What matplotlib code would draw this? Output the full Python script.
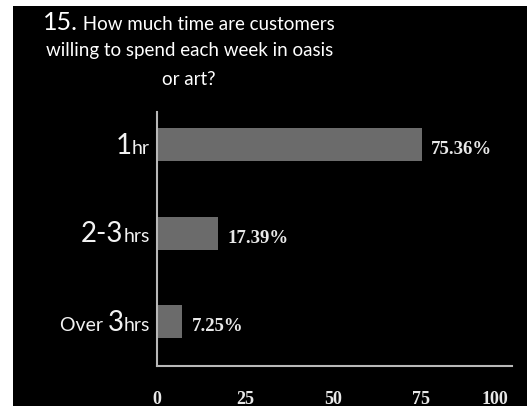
import matplotlib.pyplot as plt
from matplotlib.patches import Rectangle

categories = ["1hr", "2-3hrs", "Over 3hrs"]
values = [75.36, 17.39, 7.25]
# how each category label is split into (text, big?) pieces, left to right
label_parts = [[("1", True), ("hr", False)],
               [("2-3", True), ("hrs", False)],
               [("Over ", False), ("3", True), ("hrs", False)]]
xticks = [0, 25, 50, 75, 100]
title_num = "15."
title_lines = ["How much time are customers", "willing to spend each week in oasis", "or art?"]

W, H = 527, 409
fig = plt.figure(figsize=(W / 100, H / 100), dpi=100, facecolor="white")
fig.add_artist(Rectangle((13 / W, 3 / H), 1 - 13 / W, (H - 9) / H,
                         transform=fig.transFigure, facecolor="black",
                         edgecolor="none", zorder=-10))

ax = fig.add_axes([157 / W, 43 / H, (512 - 157) / W, (366 - 112) / H])
ax.set_facecolor("none")

ypos = list(range(len(categories)))
ax.barh(ypos, values, height=0.37, color="#6b6b6b")
ax.set_ylim(2.5, -0.37)
ax.set_xlim(0, 101)

for s in ["top", "right"]:
    ax.spines[s].set_visible(False)
for s in ["left", "bottom"]:
    ax.spines[s].set_color("#b8b8b8")
    ax.spines[s].set_linewidth(1.5)

ax.set_yticks([])
ax.set_xticks(xticks)
ax.set_xticklabels([str(t) for t in xticks], family="Liberation Serif",
                   fontsize=13, color="#e8e8e8", fontweight="bold")
ax.get_xticklabels()[-1].set_ha("right")
ax.tick_params(axis="x", length=0, pad=18)

for y, v in zip(ypos, values):
    ax.annotate(f"{v:.2f}%", xy=(v, y), xytext=(9, -5), textcoords="offset pixels",
                ha="left", va="center", family="Liberation Serif",
                fontsize=13.5, color="#e8e8e8", fontweight="bold")

small, big = 14, 20
for y, parts in zip(ypos, label_parts):
    prev = None
    for text, is_big in reversed(parts):
        size = big if is_big else small
        if prev is None:
            prev = ax.annotate(text, xy=(0, y), xycoords=("axes fraction", "data"),
                               xytext=(-7, -9), textcoords="offset pixels",
                               ha="right", va="baseline", family="Lato",
                               fontsize=size, color="#f2f2f2")
        else:
            prev = ax.annotate(text, xy=(0, y), xycoords=(prev, ax.transData),
                               xytext=(0, -9), textcoords="offset pixels",
                               ha="right", va="baseline", family="Lato",
                               fontsize=size, color="#f2f2f2")

num = fig.text(43 / W, 1 - 30 / H, title_num, family="Lato", fontsize=18,
               color="white", ha="left", va="baseline")
ax.annotate(" " + title_lines[0], xy=(1, 1 - 30 / H), xycoords=(num, fig.transFigure),
            ha="left", va="baseline", family="Lato",
            fontsize=13.5, color="white", annotation_clip=False)
fig.text(190 / W, 1 - 56 / H, title_lines[1], family="Lato", fontsize=13.5,
         color="white", ha="center", va="baseline")
fig.text(189 / W, 1 - 85 / H, title_lines[2], family="Lato", fontsize=13.5,
         color="white", ha="center", va="baseline")

fig.savefig("out.png", dpi=100, facecolor="white")
